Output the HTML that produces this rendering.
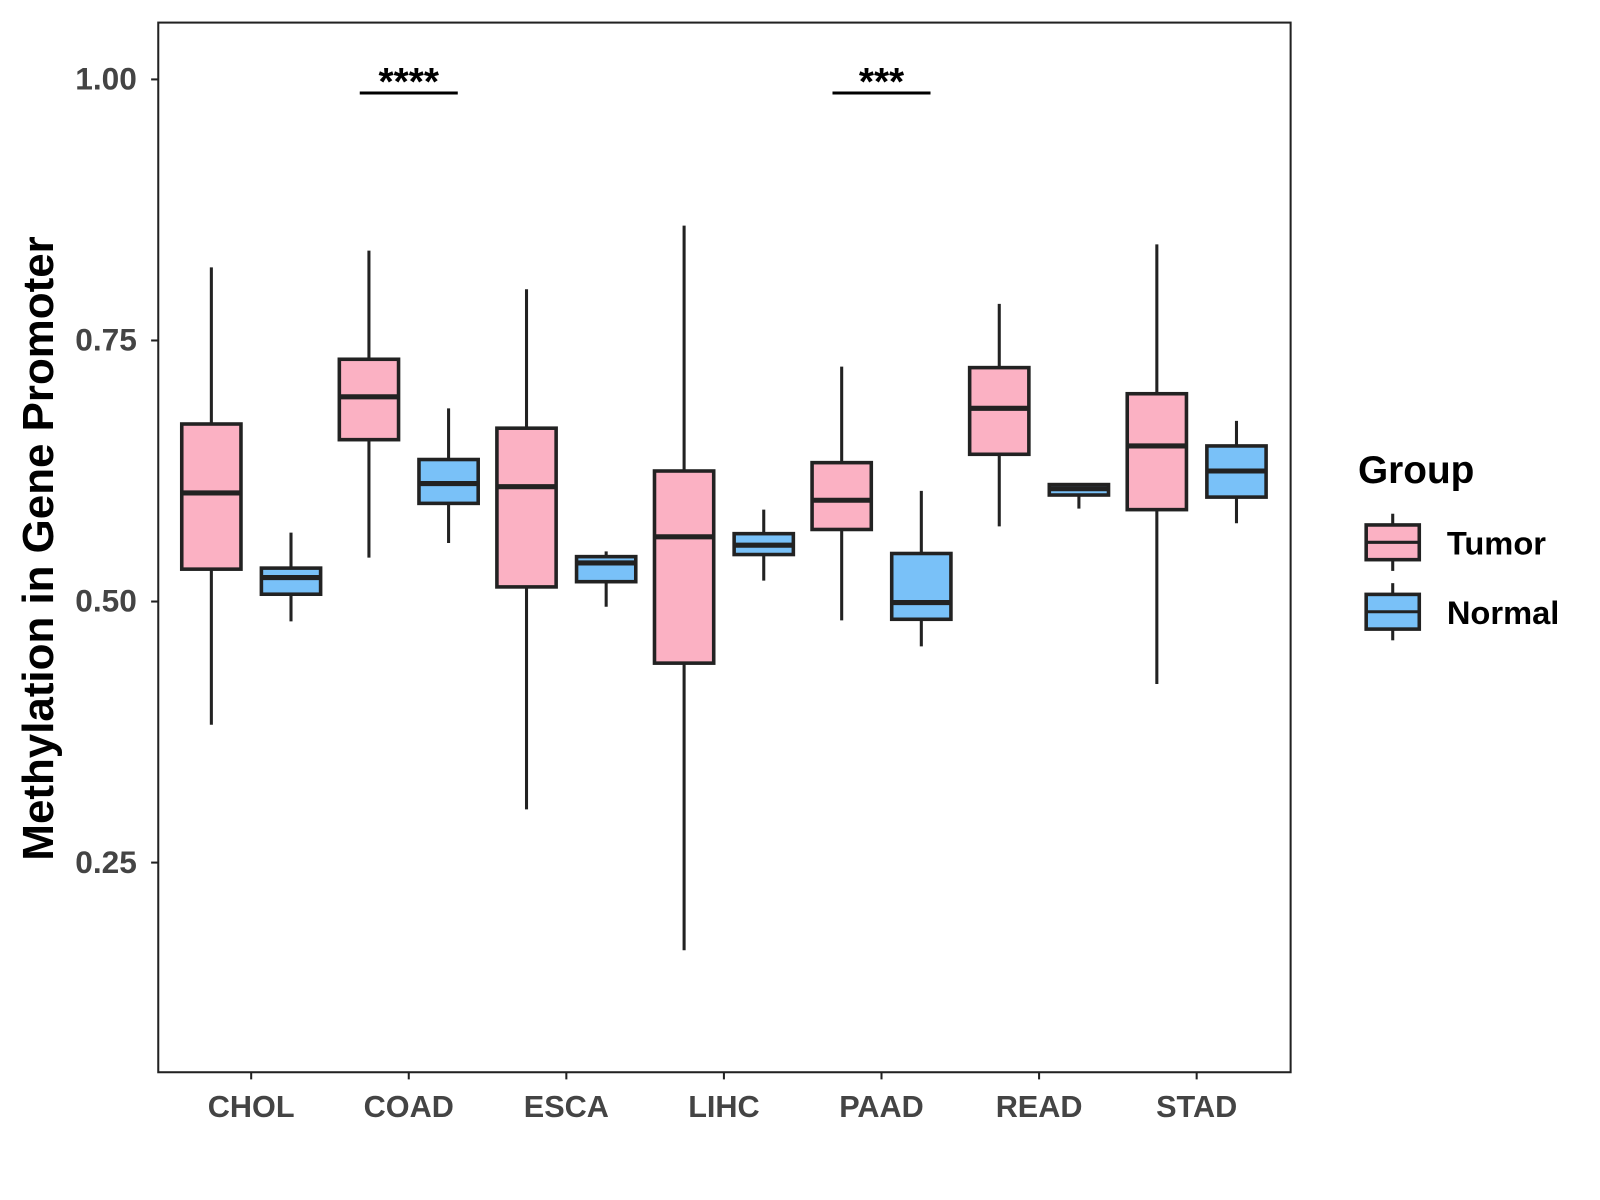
<!DOCTYPE html>
<html><head><meta charset="utf-8"><style>
body{margin:0;background:#fff}
svg{font-family:"Liberation Sans",Arial,sans-serif;font-weight:bold;display:block}
</style></head><body>
<svg id="c" width="1600" height="1200" viewBox="0 0 1567 1175" xmlns="http://www.w3.org/2000/svg">
<rect x="155" y="22" width="1109" height="1028" fill="#fff" stroke="#222" stroke-width="2"/>
<g id="marks"></g>
<text transform="translate(52,537) rotate(-90)" text-anchor="middle" font-size="43" fill="#000">Methylation in Gene Promoter</text>
<g>
<text x="1330" y="473" font-size="38" fill="#000">Group</text>
<g>
<line x1="1364" y1="503" x2="1364" y2="559" stroke="#222" stroke-width="3"/>
<rect x="1338" y="514" width="52" height="34" fill="#FBB1C3" stroke="#222" stroke-width="3.5"/>
<line x1="1338" y1="531" x2="1390" y2="531" stroke="#222" stroke-width="3"/>
<text x="1417" y="543" font-size="32" fill="#000">Tumor</text></g>
<g>
<line x1="1364" y1="571" x2="1364" y2="627" stroke="#222" stroke-width="3"/>
<rect x="1338" y="582" width="52" height="34" fill="#79C1F8" stroke="#222" stroke-width="3.5"/>
<line x1="1338" y1="599" x2="1390" y2="599" stroke="#222" stroke-width="3"/>
<text x="1417" y="611" font-size="32" fill="#000">Normal</text></g>
</g>
</svg>
<script>
const categories=["CHOL","COAD","ESCA","LIHC","PAAD","READ","STAD"];
const tumorStats=[[0.382,0.531,0.604,0.670,0.820],[0.542,0.655,0.696,0.732,0.836],[0.301,0.514,0.610,0.666,0.799],[0.166,0.441,0.562,0.625,0.860],[0.482,0.569,0.597,0.633,0.725],[0.572,0.641,0.685,0.724,0.785],[0.421,0.588,0.649,0.699,0.842]];
const normalStats=[[0.481,0.507,0.523,0.532,0.566],[0.556,0.594,0.613,0.636,0.685],[0.495,0.519,0.537,0.543,0.548],[0.520,0.545,0.554,0.565,0.588],[0.457,0.483,0.499,0.546,0.606],[0.589,0.602,0.608,0.612,0.612],[0.575,0.600,0.625,0.649,0.673]];
const yTicks=[0.25,0.50,0.75,1.00];
const yTickLabels=["0.25","0.50","0.75","1.00"];
const sigCategories=["COAD","PAAD"];
const sigLabels=["****","***"];
const sigLevel=0.987;
const NS="http://www.w3.org/2000/svg";
const svg=document.getElementById('c');
const g=document.getElementById('marks');
function y(v){return 589-(v-0.5)*1022.7;}
function x(i){return 246+i*154.33;}
function mk(t,a){const e=document.createElementNS(NS,t);for(const k in a)e.setAttribute(k,a[k]);return e;}
yTicks.forEach((v,i)=>{
 const t=mk('line',{x1:148,x2:155,y1:y(v),y2:y(v),stroke:'#222','stroke-width':2});
 
 
 svg.appendChild(t);
 const l=mk('text',{x:134,y:y(v)+10,'text-anchor':'end','font-size':31,fill:'#444'});
 
 
 l.textContent=yTickLabels[i];svg.appendChild(l);
});
categories.forEach((c,i)=>{
 const t=mk('line',{x1:x(i),x2:x(i),y1:1050,y2:1057,stroke:'#222','stroke-width':2});
 
 
 svg.appendChild(t);
 const l=mk('text',{x:x(i),y:1094,'text-anchor':'middle','font-size':30,fill:'#444'});
 
 
 l.textContent=c;svg.appendChild(l);
 [[tumorStats[i],-39,'#FBB1C3','tumor'],[normalStats[i],39,'#79C1F8','normal']].forEach(([s,off,col,nm])=>{
  const cx=x(i)+off,w=58;
  const grp=mk('g',{});
  
  
  grp.appendChild(mk('line',{x1:cx,x2:cx,y1:y(s[0]),y2:y(s[4]),stroke:'#222','stroke-width':3}));
  grp.appendChild(mk('rect',{x:cx-w/2,y:y(s[3]),width:w,height:y(s[1])-y(s[3]),fill:col,stroke:'#222','stroke-width':3.5}));
  grp.appendChild(mk('line',{x1:cx-w/2,x2:cx+w/2,y1:y(s[2]),y2:y(s[2]),stroke:'#222','stroke-width':5}));
  g.appendChild(grp);
 });
});
sigCategories.forEach((c,k)=>{
 const i=categories.indexOf(c);
 const ln=mk('line',{x1:x(i)-48,x2:x(i)+48,y1:y(sigLevel),y2:y(sigLevel),stroke:'#000','stroke-width':3});
 
 
 svg.appendChild(ln);
 const t=mk('text',{x:x(i),y:y(sigLevel)+2,'text-anchor':'middle','font-size':38,fill:'#000'});
 
 
 t.textContent=sigLabels[k];svg.appendChild(t);
});
</script>
</body></html>
